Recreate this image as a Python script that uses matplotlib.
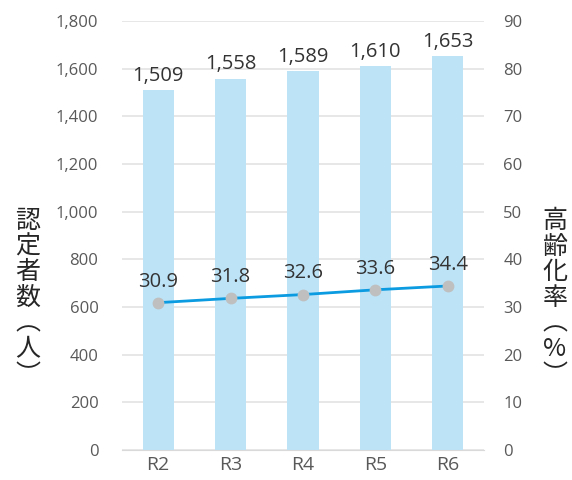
import matplotlib.pyplot as plt

plt.rcParams['font.family'] = ['Open Sans', 'Noto Sans CJK JP', 'DejaVu Sans']

# Data
years = ['R2', 'R3', 'R4', 'R5', 'R6']
certified = [1509, 1558, 1589, 1610, 1653]
aging_rate = [30.9, 31.8, 32.6, 33.6, 34.4]

bar_color = '#BDE3F7'
line_color = '#0A9BE0'
marker_color = '#BFBFBF'
tick_color = '#595959'
label_color = '#333333'

fig = plt.figure(figsize=(5.72, 4.8), dpi=100)
ax = fig.add_axes([0.2133, 0.0625, 0.6327, 0.894])
ax2 = ax.twinx()

x = range(len(years))
ax.bar(x, certified, width=0.43, color=bar_color, zorder=2)
for i, v in enumerate(certified):
    ax.annotate(f'{v:,}', (i, v), xytext=(0, 3), textcoords='offset points',
                ha='center', va='bottom', fontsize=14.5, color=label_color)

ax2.plot(x, aging_rate, color=line_color, linewidth=2, marker='o',
         markersize=7.5, markerfacecolor=marker_color, markeredgecolor=marker_color, zorder=3)
for i, v in enumerate(aging_rate):
    ax2.annotate(f'{v}', (i, v), xytext=(0, 8), textcoords='offset points',
                 ha='center', va='bottom', fontsize=14.5, color=label_color)

ax.set_ylim(0, 1800)
ax.set_yticks(range(0, 1801, 200))
ax.set_yticklabels([f'{t:,}' for t in range(0, 1801, 200)])
ax2.set_ylim(0, 90)
ax2.set_yticks(range(0, 91, 10))
ax.set_xlim(-0.5, 4.5)
ax.set_xticks(list(x))
ax.set_xticklabels(years)

ax.grid(axis='y', color='#E3E3E3', linewidth=1.2, zorder=0)
ax.set_axisbelow(True)
for a in (ax, ax2):
    for s in a.spines.values():
        s.set_visible(False)
    a.tick_params(length=0, colors=tick_color, labelsize=12)
ax.spines['bottom'].set_visible(True)
ax.spines['bottom'].set_color('#D9D9D9')
ax.tick_params(axis='x', labelsize=14, pad=4)
ax.tick_params(axis='y', pad=17)
ax2.tick_params(axis='y', pad=14)

# Vertical axis titles
fig.text(28 / 572, 1 - 298 / 480, '認\n定\n者\n数\n︵\n人\n︶', fontsize=18,
         family='Noto Sans CJK JP', ha='center', va='center', linespacing=0.98, color='#262626')
fig.text(555 / 572, 1 - 298 / 480, '高\n齢\n化\n率\n︵\n%\n︶', fontsize=18,
         family='Noto Sans CJK JP', ha='center', va='center', linespacing=0.98, color='#262626')

fig.savefig('out.png', dpi=100, facecolor='white')
